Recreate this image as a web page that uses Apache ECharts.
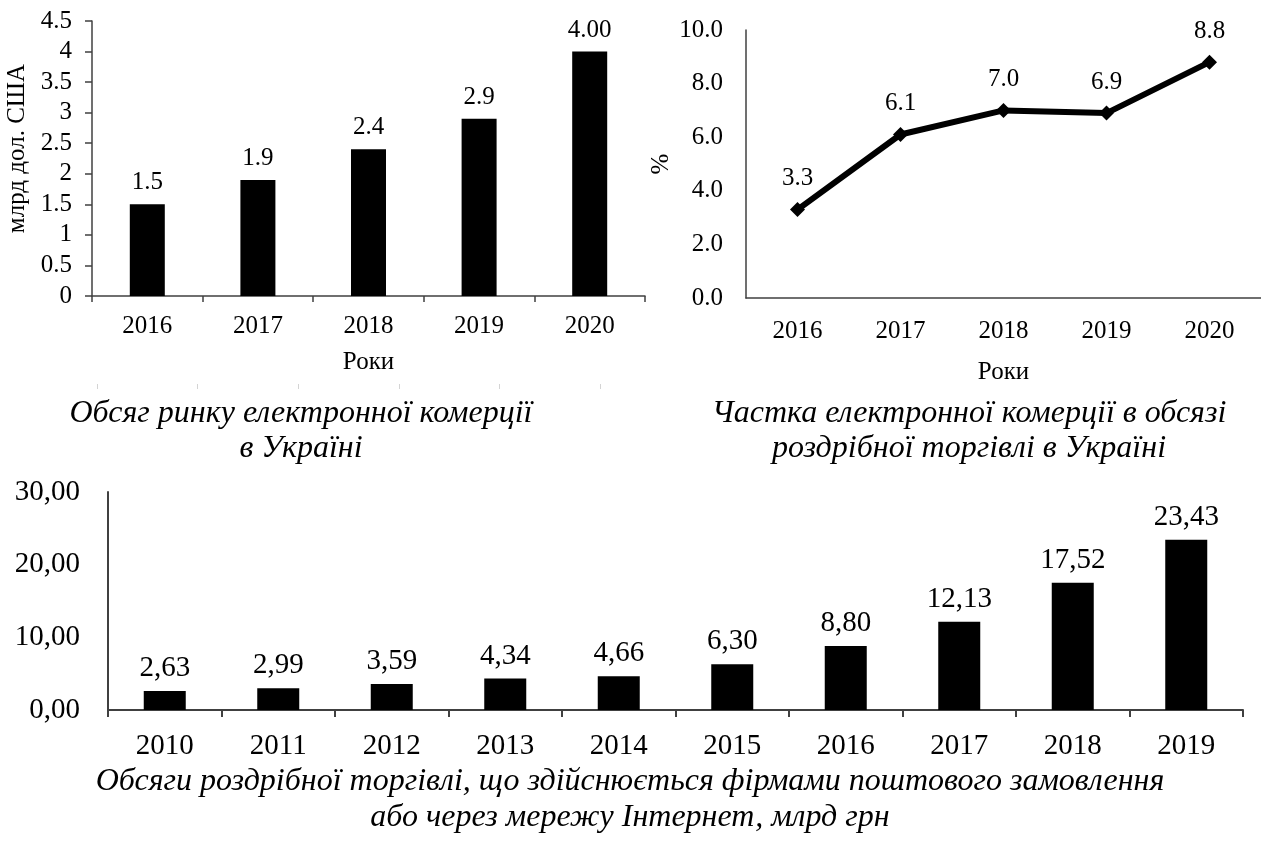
<!DOCTYPE html>
<html>
<head>
<meta charset="utf-8">
<script src="https://cdn.jsdelivr.net/npm/echarts@6/dist/echarts.min.js"></script>
<style>
  html, body { margin: 0; padding: 0; background: #fff; }
  #main { width: 1261px; height: 850px; }
</style>
</head>
<body>
<div id="main"></div>
<script>
var serif = "'Liberation Serif', 'Times New Roman', serif";

// обсяг ринку, млрд дол. США
var marketYears = ['2016', '2017', '2018', '2019', '2020'];
var marketValues = [1.5, 1.9, 2.4, 2.9, 4.0];
var marketLabels = ['1.5', '1.9', '2.4', '2.9', '4.00'];

// частка е-комерції, %
var shareYears = ['2016', '2017', '2018', '2019', '2020'];
var shareValues = [3.3, 6.1, 7.0, 6.9, 8.8];

// обсяги роздрібної торгівлі, млрд грн
var retailYears = ['2010', '2011', '2012', '2013', '2014', '2015', '2016', '2017', '2018', '2019'];
var retailValues = [2.63, 2.99, 3.59, 4.34, 4.66, 6.30, 8.80, 12.13, 17.52, 23.43];

var axisColor = '#404040';

function comma(v) {
  return Number(v).toFixed(2).replace('.', ',');
}

var chart = echarts.init(document.getElementById('main'));

var option = {
  animation: false,
  backgroundColor: '#fff',
  grid: [
    { left: 92, top: 21, width: 553, height: 275 },
    { left: 746, top: 30, width: 517, height: 268 },
    { left: 108, top: 492, width: 1135, height: 218 },
    { left: 97, top: 383, width: 503, height: 1 }
  ],
  xAxis: [{
    gridIndex: 0,
    type: 'category',
    data: marketYears,
    name: 'Роки',
    nameLocation: 'middle',
    nameGap: 54,
    nameTextStyle: { color: '#000', fontFamily: serif, fontSize: 25 },
    axisLine: { lineStyle: { color: axisColor, width: 1.5 } },
    axisTick: { show: true, length: 6, lineStyle: { color: axisColor, width: 1.5 } },
    axisLabel: { color: '#000', fontFamily: serif, fontSize: 25, margin: 18 }
  }, {
    gridIndex: 1,
    type: 'category',
    data: shareYears,
    name: 'Роки',
    nameLocation: 'middle',
    nameGap: 62,
    nameTextStyle: { color: '#000', fontFamily: serif, fontSize: 25 },
    axisLine: { lineStyle: { color: axisColor, width: 1.5 } },
    axisTick: { show: false },
    axisLabel: { color: '#000', fontFamily: serif, fontSize: 25, margin: 21 }
  }, {
    gridIndex: 2,
    type: 'category',
    data: retailYears,
    axisLine: { lineStyle: { color: axisColor, width: 2 } },
    axisTick: { show: true, length: 7, lineStyle: { color: axisColor, width: 2 } },
    axisLabel: { color: '#000', fontFamily: serif, fontSize: 29, margin: 22 }
  }, {
    gridIndex: 3,
    type: 'category',
    data: marketYears,
    axisLine: { show: false },
    axisTick: { show: true, length: 5, lineStyle: { color: '#d4d4d4', width: 1 } },
    axisLabel: { show: false }
  }],
  yAxis: [{
    gridIndex: 0,
    type: 'value',
    min: 0,
    max: 4.5,
    interval: 0.5,
    name: 'млрд дол. США',
    nameLocation: 'middle',
    nameGap: 62,
    nameTextStyle: { color: '#000', fontFamily: serif, fontSize: 25, padding: [0, 0, 0, 20] },
    splitLine: { show: false },
    axisLine: { show: true, lineStyle: { color: axisColor, width: 1.5 } },
    axisTick: { show: true, length: 7, lineStyle: { color: axisColor, width: 1.5 } },
    axisLabel: { color: '#000', fontFamily: serif, fontSize: 25, margin: 20 }
  }, {
    gridIndex: 1,
    type: 'value',
    min: 0,
    max: 10,
    interval: 2,
    name: '%',
    nameLocation: 'middle',
    nameGap: 72,
    nameTextStyle: { color: '#000', fontFamily: serif, fontSize: 25 },
    splitLine: { show: false },
    axisLine: { show: true, lineStyle: { color: axisColor, width: 1.5 } },
    axisTick: { show: false },
    axisLabel: {
      color: '#000', fontFamily: serif, fontSize: 25, margin: 23,
      formatter: function (v) { return v.toFixed(1); }
    }
  }, {
    gridIndex: 2,
    type: 'value',
    min: 0,
    max: 30,
    interval: 10,
    splitLine: { show: false },
    axisLine: { show: true, lineStyle: { color: axisColor, width: 2 } },
    axisTick: { show: false },
    axisLabel: { color: '#000', fontFamily: serif, fontSize: 29, margin: 28, formatter: comma }
  }, {
    gridIndex: 3,
    type: 'value',
    show: false
  }],
  series: [{
    type: 'bar',
    xAxisIndex: 0,
    yAxisIndex: 0,
    data: marketValues,
    barWidth: 35,
    itemStyle: { color: '#000' },
    label: {
      show: true,
      position: 'top',
      distance: 9,
      color: '#000',
      fontFamily: serif,
      fontSize: 25,
      formatter: function (p) { return marketLabels[p.dataIndex]; }
    }
  }, {
    type: 'line',
    xAxisIndex: 1,
    yAxisIndex: 1,
    data: shareValues,
    symbol: 'diamond',
    symbolSize: 15,
    lineStyle: { color: '#000', width: 6 },
    itemStyle: { color: '#000' },
    label: {
      show: true,
      position: 'top',
      distance: 11,
      color: '#000',
      fontFamily: serif,
      fontSize: 25,
      formatter: function (p) { return p.value.toFixed(1); }
    }
  }, {
    type: 'bar',
    xAxisIndex: 2,
    yAxisIndex: 2,
    data: retailValues,
    barWidth: 42,
    itemStyle: { color: '#000' },
    label: {
      show: true,
      position: 'top',
      distance: 8,
      color: '#000',
      fontFamily: serif,
      fontSize: 29,
      formatter: function (p) { return comma(p.value); }
    }
  }],
  graphic: [{
    type: 'text',
    x: 301,
    y: 431,
    style: {
      text: 'Обсяг ринку електронної комерції\nв Україні',
      textAlign: 'center',
      textVerticalAlign: 'middle',
      font: 'italic 32px ' + serif,
      lineHeight: 35,
      fill: '#000'
    }
  }, {
    type: 'text',
    x: 969,
    y: 431,
    style: {
      text: 'Частка електронної комерції в обсязі\nроздрібної торгівлі в Україні',
      textAlign: 'center',
      textVerticalAlign: 'middle',
      font: 'italic 32px ' + serif,
      lineHeight: 35,
      fill: '#000'
    }
  }, {
    type: 'text',
    x: 630,
    y: 800,
    style: {
      text: 'Обсяги роздрібної торгівлі, що здійснюється фірмами поштового замовлення\nабо через мережу Інтернет, млрд грн',
      textAlign: 'center',
      textVerticalAlign: 'middle',
      font: 'italic 32px ' + serif,
      lineHeight: 36,
      fill: '#000'
    }
  }]
};

chart.setOption(option);
</script>
</body>
</html>
